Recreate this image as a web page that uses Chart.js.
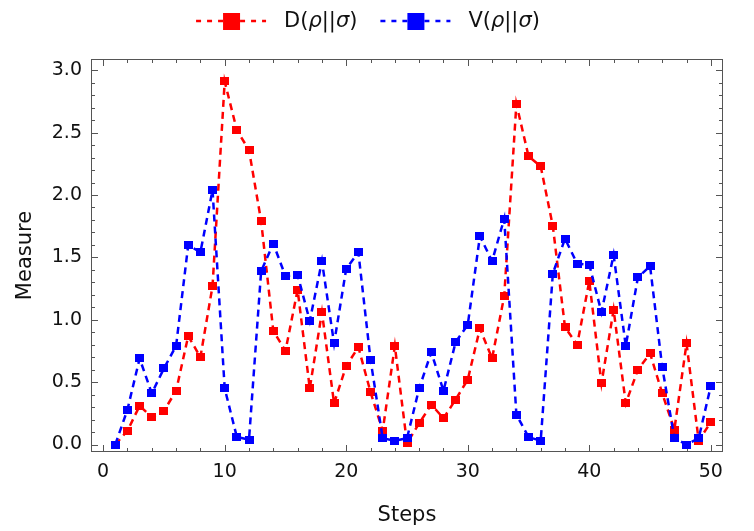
<!DOCTYPE html>
<html><head><meta charset="utf-8">
<script src="https://cdn.jsdelivr.net/npm/chart.js@4.4.1/dist/chart.umd.min.js"></script>
<style>html,body{margin:0;padding:0;background:#fff}#wrap{width:754px;height:531px;position:relative}</style>
</head><body><div id="wrap"><canvas id="c" width="754" height="531"></canvas></div>
<script>
const steps = [1,2,3,4,5,6,7,8,9,10,11,12,13,14,15,16,17,18,19,20,21,22,23,24,25,26,27,28,29,30,31,32,33,34,35,36,37,38,39,40,41,42,43,44,45,46,47,48,49,50];
const dValues = [0.00,0.11,0.31,0.22,0.27,0.43,0.87,0.70,1.27,2.91,2.52,2.36,1.79,0.91,0.75,1.24,0.45,1.06,0.33,0.63,0.78,0.42,0.11,0.79,0.01,0.17,0.32,0.21,0.36,0.52,0.93,0.69,1.19,2.73,2.31,2.23,1.75,0.94,0.80,1.31,0.49,1.08,0.33,0.60,0.73,0.41,0.12,0.81,0.03,0.18];
const vValues = [0.00,0.28,0.69,0.41,0.61,0.79,1.60,1.54,2.04,0.45,0.06,0.04,1.39,1.61,1.35,1.36,0.99,1.47,0.81,1.41,1.54,0.68,0.05,0.03,0.05,0.45,0.74,0.43,0.82,0.96,1.67,1.47,1.81,0.24,0.06,0.03,1.37,1.65,1.45,1.44,1.06,1.52,0.79,1.34,1.43,0.62,0.05,0.00,0.05,0.47];
const xTickValues = [0,10,20,30,40,50];
const yTickValues = [0,0.5,1.0,1.5,2.0,2.5,3.0];
const seriesLabels = ['D(ρ||σ)','V(ρ||σ)'];
const seriesColors = ['#ff0000','#0000ff'];
const xTitle = 'Steps';
const yTitle = 'Measure';

const FONT = "'DejaVu Sans', 'Liberation Sans', sans-serif";

function markerImage(color, w, h) {
  const c = document.createElement('canvas');
  c.width = w; c.height = h;
  const g = c.getContext('2d');
  g.fillStyle = color;
  g.fillRect(0, 0, w, h);
  return c;
}

function makePoints(vals) { return steps.map((s, i) => ({x: s, y: vals[i]})); }

const framePlugin = {
  id: 'frame',
  beforeDatasetsDraw(chart) {
    const {ctx, chartArea: a, scales: {x, y}} = chart;
    ctx.save();
    ctx.strokeStyle = '#555';
    ctx.lineWidth = 1;
    ctx.strokeRect(a.left + 0.5, a.top + 0.5, a.right - a.left - 1, a.bottom - a.top - 1);
    ctx.beginPath();
    for (let v = 0; v <= 50; v += 2) {
      const px = Math.round(x.getPixelForValue(v)) + 0.5;
      const len = (v % 10 === 0) ? 7 : 4;
      ctx.moveTo(px, a.bottom); ctx.lineTo(px, a.bottom - len);
      ctx.moveTo(px, a.top); ctx.lineTo(px, a.top + len);
    }
    for (let k = 0; k <= 30; k++) {
      const py = Math.round(y.getPixelForValue(k / 10)) + 0.5;
      const len = (k % 5 === 0) ? 7 : 4;
      ctx.moveTo(a.left, py); ctx.lineTo(a.left + len, py);
      ctx.moveTo(a.right, py); ctx.lineTo(a.right - len, py);
    }
    ctx.stroke();
    ctx.restore();
  }
};

// split a label so Greek letters are drawn in italic
function labelParts(text) {
  return Array.from(text).map(ch => ({ch, italic: /[\u0370-\u03FF]/.test(ch)}));
}

const legendPlugin = {
  id: 'customLegend',
  afterDraw(chart) {
    const ctx = chart.ctx;
    ctx.save();
    ctx.textBaseline = 'middle';
    ctx.textAlign = 'left';
    const fNormal = "21px " + FONT, fItalic = "italic 21px " + FONT;
    const measure = (t) => labelParts(t).reduce((w, p) => { ctx.font = p.italic ? fItalic : fNormal; return w + ctx.measureText(p.ch).width; }, 0);
    const symW = 70, gapText = 18, gapItem = 23;
    const widths = seriesLabels.map(measure);
    const total = symW * 2 + gapText * 2 + widths[0] + widths[1] + gapItem;
    let x = 368 - total / 2;
    const cy = 21;
    seriesLabels.forEach((label, i) => {
      ctx.strokeStyle = seriesColors[i];
      ctx.lineWidth = 2.5;
      ctx.setLineDash([5, 6]);
      ctx.beginPath();
      ctx.moveTo(x, cy); ctx.lineTo(x + symW, cy);
      ctx.stroke();
      ctx.setLineDash([]);
      ctx.fillStyle = seriesColors[i];
      ctx.fillRect(x + symW / 2 - 8, cy - 8, 17, 17);
      ctx.fillStyle = '#111';
      let tx = x + symW + gapText;
      labelParts(label).forEach(p => {
        ctx.font = p.italic ? fItalic : fNormal;
        ctx.fillText(p.ch, tx, cy + 1);
        tx += ctx.measureText(p.ch).width;
      });
      x += symW + gapText + widths[i] + gapItem;
    });
    ctx.restore();
  }
};

new Chart(document.getElementById('c'), {
  type: 'line',
  data: {
    datasets: [
      {
        label: seriesLabels[0], data: makePoints(dValues),
        borderColor: seriesColors[0], backgroundColor: seriesColors[0],
        borderWidth: 2.5, borderDash: [7, 5], tension: 0,
        pointStyle: markerImage(seriesColors[0], 9, 8), pointRadius: 5, order: 2
      },
      {
        label: seriesLabels[1], data: makePoints(vValues),
        borderColor: seriesColors[1], backgroundColor: seriesColors[1],
        borderWidth: 2.5, borderDash: [7, 5], tension: 0,
        pointStyle: markerImage(seriesColors[1], 9, 8), pointRadius: 5, order: 1
      }
    ]
  },
  options: {
    responsive: false,
    devicePixelRatio: 1,
    animation: false,
    clip: false,
    events: [],
    layout: {padding: {top: 59, right: 31, left: 0, bottom: 0}},
    plugins: {legend: {display: false}, tooltip: {enabled: false}},
    scales: {
      x: {
        type: 'linear', min: -1, max: 51,
        afterBuildTicks: s => { s.ticks = xTickValues.map(v => ({value: v})); },
        afterFit: s => { s.height = 79; },
        grid: {display: false, drawTicks: false},
        border: {display: false},
        ticks: {padding: 9, color: '#111', font: {family: FONT, size: 19}, callback: v => String(v), maxRotation: 0},
        title: {display: true, text: xTitle, color: '#111', font: {family: FONT, size: 21}, padding: {top: 0, bottom: 3}}
      },
      y: {
        type: 'linear', min: -0.06, max: 3.09,
        afterBuildTicks: s => { s.ticks = yTickValues.map(v => ({value: v})); },
        afterFit: s => { s.width = 91; },
        grid: {display: false, drawTicks: false},
        border: {display: false},
        ticks: {padding: 9, color: '#111', font: {family: FONT, size: 19}, callback: v => Number(v).toFixed(1)},
        title: {display: true, text: yTitle, color: '#111', font: {family: FONT, size: 21}, padding: {top: 13, bottom: 0}}
      }
    }
  },
  plugins: [framePlugin, legendPlugin]
});
</script></body></html>
